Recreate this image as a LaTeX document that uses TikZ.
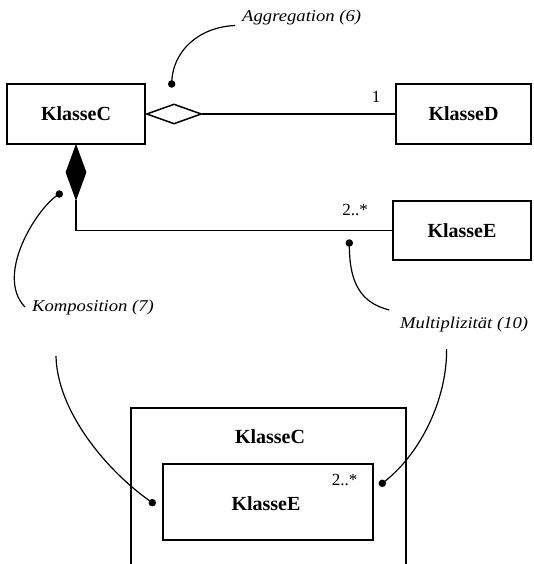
\documentclass[tikz,border=0pt]{standalone}
\usepackage{fontspec}
\setmainfont{Liberation Serif}
\newfontfamily\notefont{Liberation Serif}[FakeStretch=1.13]
\usetikzlibrary{shapes.geometric}

\tikzset{
  classbox/.style={draw, line width=1.5pt, inner sep=0pt,
    font=\bfseries\fontsize{20}{24}\selectfont},
  plaintext/.style={inner sep=0pt, font=\bfseries\fontsize{20}{24}\selectfont},
  multlabel/.style={inner sep=0pt, font=\fontsize{17}{20}\selectfont},
  notelabel/.style={inner sep=0pt, font=\notefont\itshape\fontsize{16.5}{19}\selectfont},
  aggdiamond/.style={diamond, draw, line width=1.5pt, fill=white, inner sep=0pt,
    minimum width=55pt, minimum height=20pt},
  compdiamond/.style={diamond, draw, line width=1.2pt, fill=black, inner sep=0pt,
    minimum width=20pt, minimum height=54pt},
  link/.style={line width=1.2pt},
  leader/.style={line width=1.2pt},
  pin/.style={circle, fill=black, inner sep=0pt, minimum size=7.5pt},
}

\begin{document}
\begin{tikzpicture}[x=1pt, y=-1pt]
\useasboundingbox (0,0) rectangle (533,564);

% class boxes of the association diagram
\node[classbox, minimum width=138pt, minimum height=60pt] (KlasseC) at (76,114) {KlasseC};
\node[classbox, minimum width=135pt, minimum height=60pt] (KlasseD) at (463.5,114) {KlasseD};
\node[classbox, minimum width=138pt, minimum height=59pt] (KlasseE) at (462,230.5) {KlasseE};

% aggregation: hollow diamond at KlasseC
\node[aggdiamond, anchor=west] (agg) at (KlasseC.east) {};
\draw[link] (agg.east) -- (KlasseD.west);
\node[multlabel] (multD) at (376,97) {1};

% composition: filled diamond below KlasseC
\node[compdiamond, anchor=north] (comp) at (KlasseC.south) {};
\draw[link] (comp.south) |- (KlasseE.west);
\node[multlabel] (multE) at (355,210) {2..*};

% annotation labels
\node[notelabel] (lblAgg) at (301.7,17.7) {Aggregation (6)};
\node[notelabel, anchor=west] (lblKomp) at (32,308) {Komposition (7)};
\node[notelabel, anchor=west] (lblMult) at (400,325) {Multiplizität (10)};

% pins and leader curves
\node[pin] (pinAgg) at (171.7,84) {};
\coordinate (endAgg) at (235,25.5);
\draw[leader] (pinAgg.center) .. controls (172,50) and (200,27) .. (endAgg);

\node[pin] (pinKomp) at (59.3,194) {};
\coordinate (endKomp) at (25,307);
\draw[leader] (pinKomp.center) .. controls (38,206) and (-6,275) .. (endKomp);

\node[pin] (pinMult) at (349.3,243) {};
\coordinate (endMult) at (389.3,310);
\draw[leader] (pinMult.center) .. controls (349,285) and (362,303) .. (endMult);

% nested notation: KlasseE inside KlasseC
\coordinate (outerBL) at (131,564);
\coordinate (outerTL) at (131,408);
\coordinate (outerTR) at (406,408);
\coordinate (outerBR) at (406,564);
\draw[line width=1.5pt] (outerBL) -- (outerTL) -- (outerTR) -- (outerBR);
\node[plaintext] (nestC) at (270,437) {KlasseC};
\node[classbox, minimum width=210pt, minimum height=76pt] (nestE) at (268,502) {};
\node[plaintext] (nestELabel) at (266,504) {KlasseE};
\node[multlabel] (nestMult) at (344.5,479.5) {2..*};

\node[pin] (pinNestL) at (152.3,502.7) {};
\coordinate (startNestL) at (56,356);
\draw[leader] (startNestL) .. controls (57,410) and (105,470) .. (pinNestL.center);

\node[pin] (pinNestR) at (382.3,483.3) {};
\coordinate (startNestR) at (446.6,349);
\draw[leader] (startNestR) .. controls (447,400) and (420,455) .. (pinNestR.center);
\end{tikzpicture}
\end{document}
